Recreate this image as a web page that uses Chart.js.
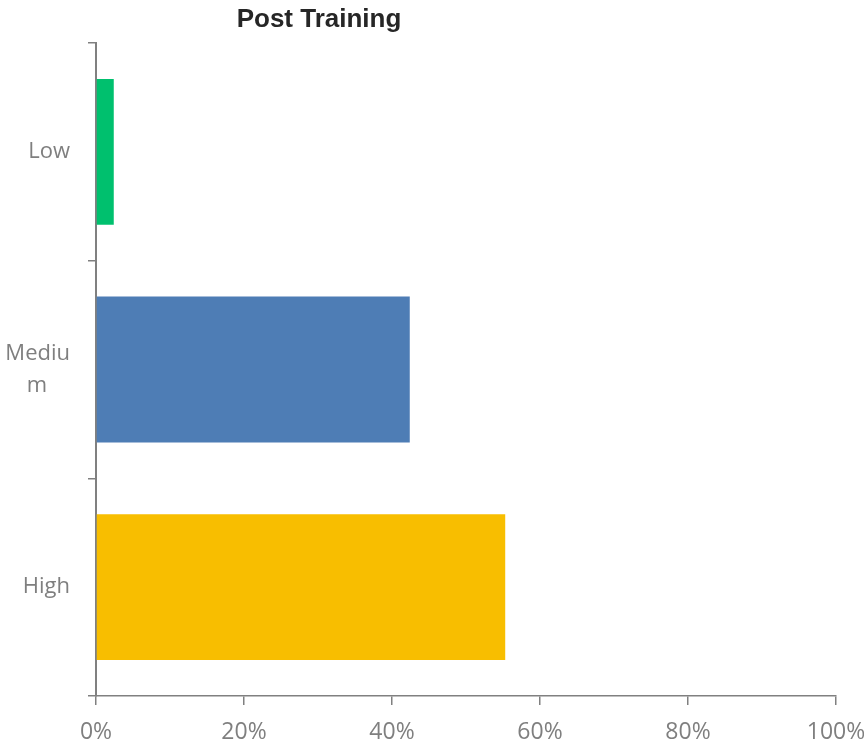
<!DOCTYPE html>
<html>
<head>
<meta charset="utf-8">
<script src="https://cdn.jsdelivr.net/npm/chart.js@4"></script>
<style>
  html, body { margin: 0; padding: 0; background: #fff; }
  #grafico { display: block; }
</style>
</head>
<body>
<canvas id="grafico" width="864" height="742"></canvas>
<script>
const titulo = 'Post Training';
const categorias = ['Low', ['Mediu', 'm\u00a0\u00a0\u00a0\u00a0'], 'High'];
const valores = [2.4, 42.4, 55.3];
const cores = ['#00c06e', '#4e7db5', '#f8be00'];
const ticksX = [0, 20, 40, 60, 80, 100];

const corEixo = '#808080';
const corTexto = '#7f7f7f';
const fonte = '"Open Sans", sans-serif';

// titulo desenhado a mao, fora do centro como no original
const tituloPlugin = {
    id: 'tituloPlugin',
    afterDraw(chart) {
        const ctx = chart.ctx;
        ctx.save();
        ctx.font = 'bold 26px "Liberation Sans", Arial, sans-serif';
        ctx.fillStyle = '#262626';
        ctx.textAlign = 'center';
        ctx.textBaseline = 'alphabetic';
        ctx.fillText(titulo, 319, 27);
        ctx.restore();
    }
};

function gerarGrafico() {
    new Chart(document.getElementById('grafico').getContext('2d'), {
        type: 'bar',
        data: {
            labels: categorias,
            datasets: [{
                data: valores,
                backgroundColor: cores,
                borderWidth: 0,
                categoryPercentage: 1,
                barPercentage: 0.67
            }]
        },
        options: {
            indexAxis: 'y',
            responsive: false,
            animation: false,
            layout: { padding: { top: 43, left: 0, right: 0, bottom: 0 } },
            plugins: {
                legend: { display: false },
                tooltip: { enabled: false },
                title: { display: false }
            },
            scales: {
                x: {
                    min: 0,
                    max: 100,
                    afterBuildTicks: (scale) => {
                        scale.ticks = ticksX.map(v => ({ value: v }));
                    },
                    afterFit: (scale) => {
                        scale.height = 46;
                        scale.paddingRight = 28;
                    },
                    grid: {
                        drawOnChartArea: false,
                        drawTicks: true,
                        tickLength: 9,
                        color: corEixo,
                        lineWidth: 1.5
                    },
                    border: { color: corEixo, width: 1.5 },
                    ticks: {
                        padding: 14,
                        color: corTexto,
                        font: { family: fonte, size: 23 },
                        maxRotation: 0,
                        autoSkip: false,
                        callback: (v) => v + '%'
                    }
                },
                y: {
                    afterFit: (scale) => { scale.width = 96; },
                    grid: {
                        drawOnChartArea: false,
                        drawTicks: true,
                        tickLength: 8,
                        color: corEixo,
                        lineWidth: 1.5
                    },
                    border: { color: corEixo, width: 2 },
                    ticks: {
                        padding: 18,
                        color: corTexto,
                        font: { family: fonte, size: 22, lineHeight: 1.45 }
                    }
                }
            }
        },
        plugins: [tituloPlugin]
    });
}

Promise.all([
    document.fonts.load('22px "Open Sans"'),
    document.fonts.load('bold 26px "Liberation Sans"')
]).then(gerarGrafico, gerarGrafico);
</script>
</body>
</html>
